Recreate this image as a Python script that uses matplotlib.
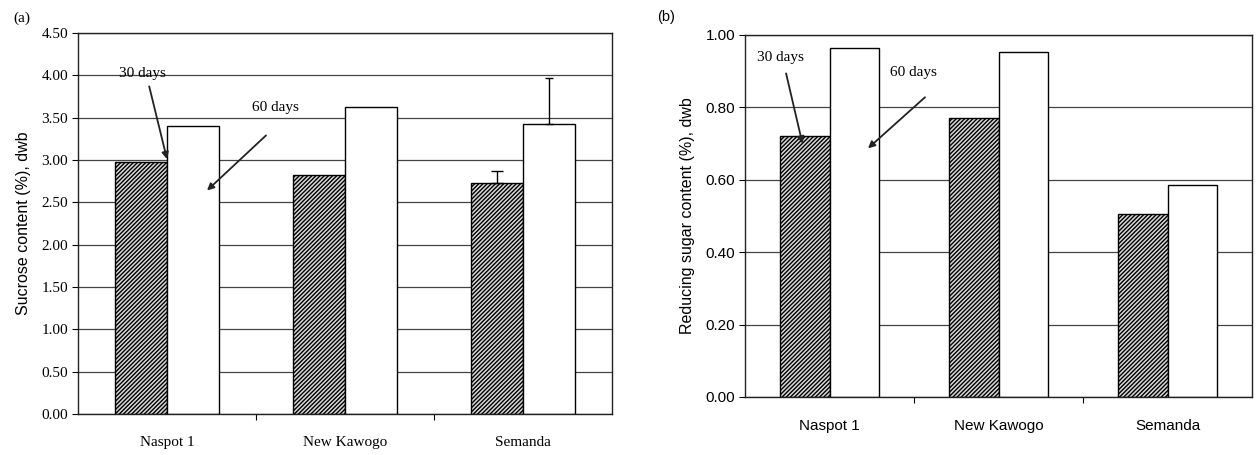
import matplotlib
matplotlib.use('Agg')
import matplotlib.pyplot as plt
import numpy as np

varieties = ['Naspot 1', 'New Kawogo', 'Semanda']

# (a) sucrose content (%), dwb
sucrose_30 = [2.98, 2.82, 2.73]
sucrose_60 = [3.40, 3.63, 3.42]
sucrose_30_err = [0.0, 0.0, 0.14]
sucrose_60_err = [0.0, 0.0, 0.55]

# (b) reducing sugar content (%), dwb
reducing_30 = [0.72, 0.77, 0.505]
reducing_60 = [0.963, 0.952, 0.587]

SERIF = 'Liberation Serif'
SANS = 'Liberation Sans'

fig = plt.figure(figsize=(12.58, 4.55), dpi=100)
axa = fig.add_axes([78/1258, 1-414/455, 534/1258, 381/455])
axb = fig.add_axes([745/1258, 1-397/455, 507/1258, 362/455])

x = np.arange(len(varieties))
w = 0.29
plt.rcParams['hatch.color'] = '#3a3a3a'
plt.rcParams['hatch.linewidth'] = 1.0


def upper_err(ax, xs, vals, errs, cap):
    # only draw the bars that have an error value (upper side only, like Excel)
    xs = np.asarray(xs); vals = np.asarray(vals); errs = np.asarray(errs)
    m = errs > 0
    if m.any():
        ax.errorbar(xs[m], vals[m], yerr=[np.zeros(m.sum()), errs[m]], fmt='none',
                    ecolor='black', elinewidth=1, capsize=cap, capthick=1)


def draw(ax, v30, v60, e30, e60, ymax, step, tickfont, ylab):
    ax.set_axisbelow(True)
    ax.yaxis.grid(True, color='#444444', linewidth=0.9)
    ax.bar(x - w/2, v30, w, color='#d8d8d8', edgecolor='black', hatch='////////', linewidth=1.0)
    ax.bar(x + w/2, v60, w, color='white', edgecolor='black', linewidth=1.0)
    if e30 is not None:
        upper_err(ax, x - w/2, v30, e30, 4)
        upper_err(ax, x + w/2, v60, e60, 3)
    ax.set_xlim(-0.5, 2.5)
    ax.set_ylim(0, ymax)
    yt = np.arange(0, ymax + step/2, step)
    ax.set_yticks(yt)
    ax.set_yticklabels(['%.2f' % t for t in yt], fontfamily=tickfont, fontsize=11)
    ax.set_xticks([0.5, 1.5])
    ax.set_xticklabels([])
    ax.set_xticks(x, minor=True)
    ax.set_xticklabels(varieties, minor=True, fontfamily=tickfont, fontsize=11)
    ax.tick_params(axis='x', which='minor', length=0, pad=16)
    ax.tick_params(axis='x', which='major', length=4, direction='out')
    ax.tick_params(axis='y', length=4, direction='out', pad=3)
    for s in ax.spines.values():
        s.set_linewidth(1.0)
        s.set_color('#222222')
    ax.set_ylabel(ylab, fontfamily=SANS, fontsize=11.5, labelpad=8)


draw(axa, sucrose_30, sucrose_60, sucrose_30_err, sucrose_60_err, 4.5, 0.5, SERIF,
     'Sucrose content (%), dwb')
draw(axb, reducing_30, reducing_60, None, None, 1.0, 0.2, SANS,
     'Reducing sugar content (%), dwb')

arr = dict(arrowstyle='-|>', color='#222222', lw=1.3, mutation_scale=10, shrinkA=0, shrinkB=0)
axa.annotate('', xy=(0.0, 3.01), xytext=(-0.10, 3.87), arrowprops=arr)
axa.text(-0.14, 4.02, '30 days', fontfamily=SERIF, fontsize=11, ha='center', va='center')
axa.annotate('', xy=(0.225, 2.64), xytext=(0.556, 3.29), arrowprops=arr)
axa.text(0.61, 3.62, '60 days', fontfamily=SERIF, fontsize=11, ha='center', va='center')

axb.annotate('', xy=(-0.16, 0.70), xytext=(-0.257, 0.894), arrowprops=arr)
axb.text(-0.29, 0.938, '30 days', fontfamily=SERIF, fontsize=11, ha='center', va='center')
axb.annotate('', xy=(0.228, 0.687), xytext=(0.565, 0.828), arrowprops=arr)
axb.text(0.494, 0.897, '60 days', fontfamily=SERIF, fontsize=11, ha='center', va='center')

fig.text(13/1258, 1-18/455, '(a)', fontfamily=SERIF, fontsize=11, va='center')
fig.text(657/1258, 1-17/455, '(b)', fontfamily=SANS, fontsize=10.5, va='center')

fig.savefig('out.png', dpi=100)
